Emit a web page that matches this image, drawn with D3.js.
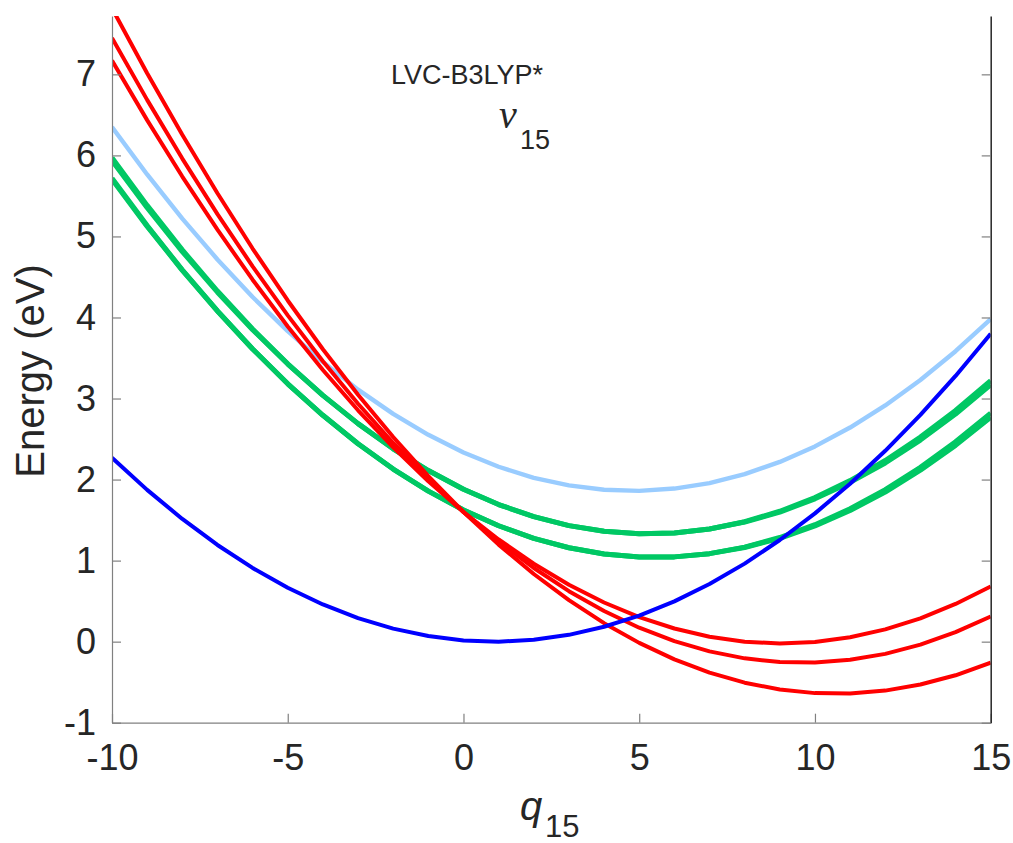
<!DOCTYPE html>
<html>
<head>
<meta charset="utf-8">
<script src="https://cdn.jsdelivr.net/npm/d3@7"></script>
<style>
  html, body { margin: 0; padding: 0; background: #ffffff; }
  svg { display: block; }
  text { font-family: "Liberation Sans", Arial, Helvetica, sans-serif; fill: #262626; }
</style>
</head>
<body>
<svg id="chart" width="1013" height="843"></svg>
<script>
// ---- data ----
const q = [-10,-9,-8,-7,-6,-5,-4,-3,-2,-1,0,1,2,3,4,5,6,7,8,9,10,11,12,13,14,15];

const blueState = [2.270,1.873,1.514,1.193,0.910,0.665,0.459,0.291,0.161,0.069,0.015,0.000,0.023,0.084,0.184,0.321,0.497,0.711,0.963,1.254,1.583,1.949,2.355,2.798,3.279,3.799];

const lightBlueState = [6.350,5.765,5.220,4.716,4.253,3.831,3.450,3.110,2.811,2.552,2.335,2.158,2.022,1.928,1.874,1.861,1.889,1.957,2.067,2.218,2.409,2.642,2.915,3.229,3.584,3.980];

const greenUpperA = [5.971,5.383,4.834,4.326,3.857,3.428,3.039,2.690,2.380,2.111,1.881,1.692,1.542,1.432,1.362,1.331,1.341,1.390,1.480,1.609,1.778,1.987,2.235,2.524,2.852,3.221];
const greenUpperB = [5.936,5.355,4.813,4.312,3.849,3.425,3.039,2.690,2.380,2.111,1.881,1.692,1.542,1.432,1.362,1.331,1.341,1.390,1.476,1.599,1.762,1.965,2.205,2.487,2.808,3.171];
const greenLowerA = [5.719,5.134,4.587,4.080,3.612,3.182,2.793,2.442,2.130,1.857,1.624,1.430,1.275,1.159,1.082,1.044,1.046,1.086,1.166,1.285,1.443,1.640,1.876,2.152,2.466,2.820];
const greenLowerB = [5.704,5.124,4.582,4.080,3.612,3.182,2.793,2.442,2.130,1.857,1.624,1.430,1.275,1.159,1.082,1.044,1.046,1.086,1.162,1.275,1.427,1.618,1.846,2.115,2.422,2.770];

const red1 = [7.170,6.435,5.739,5.083,4.466,3.889,3.352,2.855,2.397,1.979,1.600,1.261,0.962,0.702,0.483,0.302,0.162,0.061,-0.001,-0.022,-0.004,0.054,0.151,0.288,0.465,0.681];
const red2 = [7.450,6.685,5.961,5.276,4.631,4.026,3.461,2.936,2.451,2.005,1.600,1.235,0.909,0.623,0.378,0.172,0.006,-0.120,-0.206,-0.252,-0.258,-0.224,-0.151,-0.037,0.117,0.310];
const red3 = [7.815,7.014,6.254,5.533,4.851,4.210,3.608,3.047,2.525,2.042,1.600,1.197,0.835,0.512,0.228,-0.015,-0.219,-0.382,-0.506,-0.591,-0.635,-0.640,-0.604,-0.529,-0.415,-0.260];

const xTicks = [-10,-5,0,5,10,15];
const yTicks = [-1,0,1,2,3,4,5,6,7];

const titleLine1 = "LVC-B3LYP*";
const titleNu = "\u03BD";
const titleSub = "15";
const xLabelMain = "q";
const xLabelSub = "15";
const yLabel = "Energy (eV)";

// ---- layout ----
const svg = d3.select("#chart");
const pL = 112, pR = 990.7, pT = 16, pB = 722.7;

const x = d3.scaleLinear().domain([-10, 15]).range([pL, pR]);
const y = d3.scaleLinear().domain([-1, 7.72]).range([pB, pT]);

svg.append("defs").append("clipPath").attr("id", "plotclip")
  .append("rect").attr("x", pL).attr("y", pT).attr("width", pR - pL).attr("height", pB - pT);

const series = [
  { v: lightBlueState, c: "#99ccff", w: 4.4 },
  { v: greenUpperA, c: "#00c864", w: 5 },
  { v: greenUpperB, c: "#00c864", w: 5 },
  { v: greenLowerA, c: "#00c864", w: 5 },
  { v: greenLowerB, c: "#00c864", w: 5 },
  { v: red1, c: "#ff0000", w: 4 },
  { v: red2, c: "#ff0000", w: 4 },
  { v: red3, c: "#ff0000", w: 4 },
  { v: blueState, c: "#0000ff", w: 4 }
];

const line = d3.line().x((d, i) => x(q[i])).y(d => y(d));

const plot = svg.append("g").attr("clip-path", "url(#plotclip)");
series.forEach(s => {
  plot.append("path")
    .attr("d", line(s.v))
    .attr("fill", "none")
    .attr("stroke", s.c)
    .attr("stroke-width", s.w)
    .attr("stroke-linejoin", "round");
});

// ---- axes ----
const tickLen = 9;
const axisGray = "#808080";
const tickFont = 36;

const xAxis = d3.axisBottom(x).tickValues(xTicks).tickSizeInner(-tickLen).tickSizeOuter(0).tickPadding(22).tickFormat(d3.format("d"));
const gx = svg.append("g").attr("transform", `translate(0,${pB})`).call(xAxis);
gx.select(".domain").attr("stroke", axisGray).attr("stroke-width", 1.2);
gx.selectAll(".tick line").attr("stroke", axisGray).attr("stroke-width", 1.2);
gx.selectAll(".tick text").attr("font-size", tickFont).attr("fill", "#262626")
  .attr("font-family", "Liberation Sans, Arial, sans-serif")
  .text(d => d < 0 ? "-" + Math.abs(d) : d);

const yAxis = d3.axisLeft(y).tickValues(yTicks).tickSizeInner(-tickLen).tickSizeOuter(0).tickPadding(16).tickFormat(d3.format("d"));
const gy = svg.append("g").attr("transform", `translate(${pL},0)`).call(yAxis);
gy.select(".domain").attr("stroke", axisGray).attr("stroke-width", 1.2);
gy.selectAll(".tick line").attr("stroke", axisGray).attr("stroke-width", 1.2);
gy.selectAll(".tick text").attr("font-size", tickFont).attr("fill", "#262626")
  .attr("font-family", "Liberation Sans, Arial, sans-serif")
  .text(d => d < 0 ? "-" + Math.abs(d) : d);

const yAxisR = d3.axisRight(y).tickValues(yTicks).tickSizeInner(-tickLen).tickSizeOuter(0).tickFormat("");
const gr = svg.append("g").attr("transform", `translate(${pR},0)`).call(yAxisR);
gr.select(".domain").attr("stroke", "#262626").attr("stroke-width", 1.5);
gr.selectAll(".tick line").attr("stroke", axisGray).attr("stroke-width", 1.2);

// ---- texts ----
svg.append("text").attr("x", 467).attr("y", 84)
  .attr("text-anchor", "middle").attr("font-size", 27).attr("fill", "#111").text(titleLine1);

const nuT = svg.append("text").attr("x", 499).attr("y", 128);
nuT.append("tspan").attr("font-family", "Liberation Serif, DejaVu Serif, serif")
  .attr("font-style", "italic").attr("font-size", 40).text(titleNu);
nuT.append("tspan").attr("x", 520).attr("y", 149).attr("font-size", 27).text(titleSub);

const xl = svg.append("text").attr("x", 520).attr("y", 820);
xl.append("tspan").attr("font-style", "italic").attr("font-size", 40).text(xLabelMain);
xl.append("tspan").attr("x", 545).attr("y", 837).attr("font-size", 31).text(xLabelSub);

svg.append("text")
  .attr("transform", `translate(44,371) rotate(-90)`)
  .attr("text-anchor", "middle").attr("font-size", 40).text(yLabel);
</script>
</body>
</html>
